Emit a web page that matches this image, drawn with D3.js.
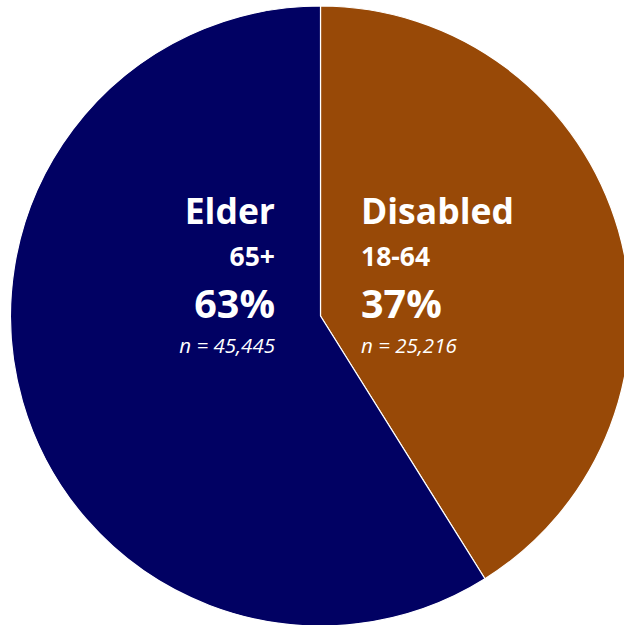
<!DOCTYPE html>
<html>
<head>
<meta charset="utf-8">
<script src="https://cdn.jsdelivr.net/npm/d3@7"></script>
<style>
  html, body { margin: 0; padding: 0; background: #fff; }
  svg { display: block; }
</style>
</head>
<body>
<svg id="chart" width="624" height="625"></svg>
<script>
// Data (slice shares as drawn in the picture; labels as printed)
const categories = ["Disabled", "Elder"];
const sliceShares = [41.1, 58.9];
const ageLabels = ["18-64", "65+"];
const percentLabels = ["37%", "63%"];
const nLabels = ["n = 25,216", "n = 45,445"];
const colors = ["#984907", "#010163"];

const svg = d3.select("#chart");
const cx = 320.5, cy = 316, r = 310;
const g = svg.append("g").attr("transform", `translate(${cx},${cy})`);

const pie = d3.pie().sort(null).value(d => d.v).startAngle(0).endAngle(2 * Math.PI);
const arc = d3.arc().innerRadius(0).outerRadius(r);
const data = categories.map((c, i) => ({ c, v: sliceShares[i], i }));

g.selectAll("path.slice").data(pie(data)).join("path")
  .attr("class", "slice")
  .attr("d", arc)
  .attr("fill", d => colors[d.data.i])
  .attr("stroke", "#ffffff")
  .attr("stroke-width", 1.2)
  .attr("stroke-linejoin", "round");

const font = "'Open Sans', Lato, sans-serif";
// label blocks: Disabled left-aligned right of center; Elder right-aligned left of center
const blocks = [
  { i: 0, x: 361, anchor: "start" },
  { i: 1, x: 275, anchor: "end" }
];
blocks.forEach(b => {
  const t = svg.append("g").attr("fill", "#ffffff").attr("font-family", font).attr("text-anchor", b.anchor);
  t.append("text").attr("x", b.x).attr("y", 224).attr("font-size", 35.5).attr("font-weight", 700).text(categories[b.i]);
  t.append("text").attr("x", b.x).attr("y", 266).attr("font-size", 26.5).attr("font-weight", 700).text(ageLabels[b.i]);
  t.append("text").attr("x", b.x).attr("y", 318).attr("font-size", 39.5).attr("font-weight", 700).text(percentLabels[b.i]);
  t.append("text").attr("x", b.x).attr("y", 353).attr("font-size", 20.5).attr("font-style", "italic").text(nLabels[b.i]);
});
</script>
</body>
</html>
